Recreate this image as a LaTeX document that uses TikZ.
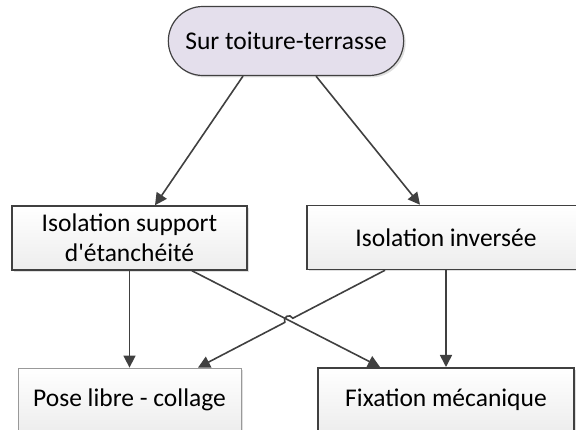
\documentclass[tikz,border=0pt]{standalone}
\usepackage{fontspec}
\setmainfont{Carlito}
\usetikzlibrary{arrows.meta,shapes.misc,calc,shadows}
\definecolor{linegray}{HTML}{404040}
\definecolor{lavender}{HTML}{E4DFEC}
\definecolor{boxgray}{HTML}{EDEDED}

\begin{document}
\begin{tikzpicture}[x=1pt, y=-1pt,
    every node/.style={font=\fontsize{25.5}{30}\selectfont, align=center, text=black},
    start/.style={rounded rectangle, draw=linegray, line width=1.2pt, fill=lavender,
        minimum width=242pt, minimum height=69pt,
        drop shadow={shadow xshift=2pt, shadow yshift=-2pt, opacity=0.25}},
    box/.style={rectangle, draw=linegray, line width=1.5pt, top color=white, bottom color=boxgray,
        minimum height=64pt,
        drop shadow={shadow xshift=2pt, shadow yshift=-2pt, opacity=0.25}},
    arr/.style={-{Triangle[length=12pt, width=12pt]}, draw=linegray, line width=1.6pt}
]
\useasboundingbox (0,0) rectangle (576,430);
\clip (0,0) rectangle (576,430);

\node[start] (top) at (286,41) {Sur toiture-terrasse};
\node[box, minimum width=235pt] (isup) at (129.5,238) {Isolation support\\d\textquotesingle étanchéité};
\node[box, minimum width=278pt] (iinv) at (446,237.5) {Isolation inversée};
\node[box, draw=gray!80, line width=0.8pt, minimum width=223pt] (pose) at (129.5,400) {Pose libre - collage};
\node[box, line width=2pt, minimum width=256pt] (fix) at (446,400) {Fixation mécanique};

\draw[arr] ($(top.south)+(-43,0)$) -- ($(isup.north)+(25.5,0)$);
\draw[arr] ($(top.south)+(30,0)$) -- ($(iinv.north)+(-26,0)$);
\draw[arr] (isup.south) -- (pose.north);
\draw[arr] (iinv.south) -- (fix.north);

\coordinate (a1) at ($(isup.south)+(62.5,0)$);
\coordinate (a2) at ($(fix.north)+(-66,0)$);
\coordinate (b1) at ($(iinv.south)+(-61,0)$);
\coordinate (b2) at ($(pose.north)+(68.5,0)$);
\draw[arr] (a1) -- (a2);

\coordinate (hop) at (intersection of a1--a2 and b1--b2);
\coordinate (h1) at ($(hop)!4.5pt!(b1)$);
\coordinate (h2) at ($(hop)!4.5pt!(b2)$);
\coordinate (c1) at ($(h1)!6pt!-90:(hop)$);
\coordinate (c2) at ($(h2)!6pt!90:(hop)$);
\draw[arr] (b1) -- (h1) .. controls (c1) and (c2) .. (h2) -- (b2);

\end{tikzpicture}
\end{document}
